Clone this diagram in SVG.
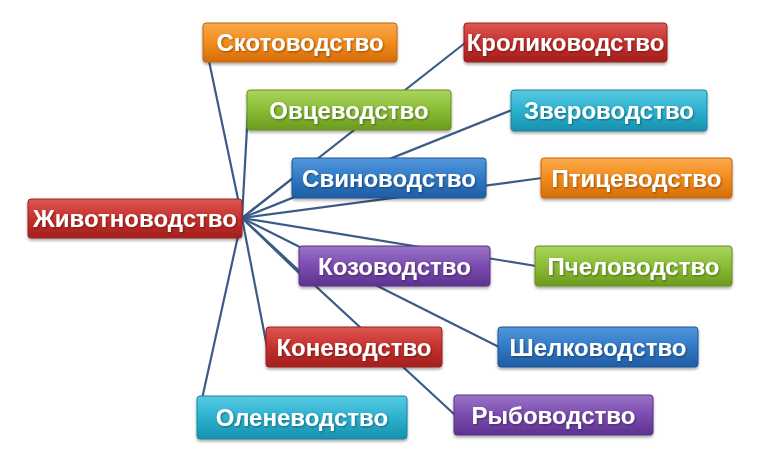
<svg xmlns="http://www.w3.org/2000/svg" width="763" height="458" viewBox="0 0 763 458">
<defs>
<linearGradient id="gOrange" x1="0" y1="0" x2="0" y2="1"><stop offset="0" stop-color="#FBAA4C"/><stop offset="0.5" stop-color="#F28C1C"/><stop offset="1" stop-color="#D56C0A"/></linearGradient>
<linearGradient id="gRed" x1="0" y1="0" x2="0" y2="1"><stop offset="0" stop-color="#DC5854"/><stop offset="0.5" stop-color="#C6302D"/><stop offset="1" stop-color="#A3201D"/></linearGradient>
<linearGradient id="gGreen" x1="0" y1="0" x2="0" y2="1"><stop offset="0" stop-color="#A9D460"/><stop offset="0.5" stop-color="#8ABD35"/><stop offset="1" stop-color="#6C9A20"/></linearGradient>
<linearGradient id="gCyan" x1="0" y1="0" x2="0" y2="1"><stop offset="0" stop-color="#58C9E3"/><stop offset="0.5" stop-color="#2BB1CF"/><stop offset="1" stop-color="#1890AD"/></linearGradient>
<linearGradient id="gBlue" x1="0" y1="0" x2="0" y2="1"><stop offset="0" stop-color="#5497DB"/><stop offset="0.5" stop-color="#3079C6"/><stop offset="1" stop-color="#1F5CA2"/></linearGradient>
<linearGradient id="gPurple" x1="0" y1="0" x2="0" y2="1"><stop offset="0" stop-color="#9A74C8"/><stop offset="0.5" stop-color="#7B4CAF"/><stop offset="1" stop-color="#5D3290"/></linearGradient>
<filter id="sh" x="-10%" y="-20%" width="120%" height="150%">
<feGaussianBlur in="SourceAlpha" stdDeviation="1.5"/>
<feOffset dx="0" dy="2" result="b"/>
<feComponentTransfer><feFuncA type="linear" slope="0.35"/></feComponentTransfer>
<feMerge><feMergeNode/><feMergeNode in="SourceGraphic"/></feMerge>
</filter>
<filter id="ts" x="-5%" y="-20%" width="110%" height="150%">
<feGaussianBlur in="SourceAlpha" stdDeviation="0.8"/>
<feOffset dx="0.5" dy="1" result="b"/>
<feComponentTransfer><feFuncA type="linear" slope="0.4"/></feComponentTransfer>
<feMerge><feMergeNode/><feMergeNode in="SourceGraphic"/></feMerge>
</filter>
</defs>
<style>
.conn line{stroke:#3B5B87;stroke-width:2.2;fill:none}
.box{filter:url(#sh)}
.box rect{stroke-width:1}
.o rect{fill:url(#gOrange);stroke:#C0650E}
.r rect{fill:url(#gRed);stroke:#962220}
.g rect{fill:url(#gGreen);stroke:#648F1F}
.c rect{fill:url(#gCyan);stroke:#1884A0}
.b rect{fill:url(#gBlue);stroke:#1D5596}
.p rect{fill:url(#gPurple);stroke:#553085}
.box text{font-family:"Liberation Sans",Arial,sans-serif;font-weight:bold;font-size:24px;fill:#FFFFFF;text-anchor:middle;filter:url(#ts)}
</style>
<rect width="763" height="458" fill="#FFFFFF"/>
<g id="connectors" class="conn">
<line x1="242" y1="218" x2="205" y2="42"/>
<line x1="242" y1="218" x2="248" y2="110"/>
<line x1="242" y1="218" x2="465" y2="43"/>
<line x1="242" y1="218" x2="512" y2="110"/>
<line x1="242" y1="218" x2="293" y2="178"/>
<line x1="242" y1="218" x2="542" y2="178"/>
<line x1="242" y1="218" x2="536" y2="266"/>
<line x1="242" y1="218" x2="499" y2="347"/>
<line x1="242" y1="218" x2="300" y2="274"/>
<line x1="242" y1="218" x2="455" y2="415"/>
<line x1="242" y1="218" x2="267" y2="347"/>
<line x1="242" y1="218" x2="198" y2="417"/>
</g>
<g id="n-skot" class="box o"><rect x="203" y="23" width="194" height="39" rx="3"/><text x="300" y="51">Скотоводство</text></g>
<g id="n-krol" class="box r"><rect x="464" y="23" width="203" height="39" rx="3"/><text x="565.5" y="51">Кролиководство</text></g>
<g id="n-ovc" class="box g"><rect x="247" y="90" width="204" height="40" rx="3"/><text x="349" y="118.5">Овцеводство</text></g>
<g id="n-zver" class="box c"><rect x="511" y="90" width="196" height="41" rx="3"/><text x="609" y="119">Звероводство</text></g>
<g id="n-svin" class="box b"><rect x="292" y="158" width="194" height="40" rx="3"/><text x="389" y="186.5">Свиноводство</text></g>
<g id="n-ptic" class="box o"><rect x="541" y="158" width="191" height="40" rx="3"/><text x="636.5" y="186.5">Птицеводство</text></g>
<g id="n-zhiv" class="box r"><rect x="28" y="199" width="214" height="39" rx="3"/><text x="135" y="227">Животноводство</text></g>
<g id="n-koz" class="box p"><rect x="299" y="246" width="191" height="40" rx="3"/><text x="394.5" y="274.5">Козоводство</text></g>
<g id="n-pchel" class="box g"><rect x="535" y="246" width="197" height="40" rx="3"/><text x="633.5" y="274.5">Пчеловодство</text></g>
<g id="n-kon" class="box r"><rect x="266" y="327" width="176" height="40" rx="3"/><text x="354" y="355.5">Коневодство</text></g>
<g id="n-shelk" class="box b"><rect x="498" y="327" width="200" height="40" rx="3"/><text x="598" y="355.5">Шелководство</text></g>
<g id="n-olen" class="box c"><rect x="197" y="396" width="210" height="43" rx="3"/><text x="302" y="426">Оленеводство</text></g>
<g id="n-ryb" class="box p"><rect x="454" y="395" width="199" height="40" rx="3"/><text x="553.5" y="423.5">Рыбоводство</text></g>
</svg>
